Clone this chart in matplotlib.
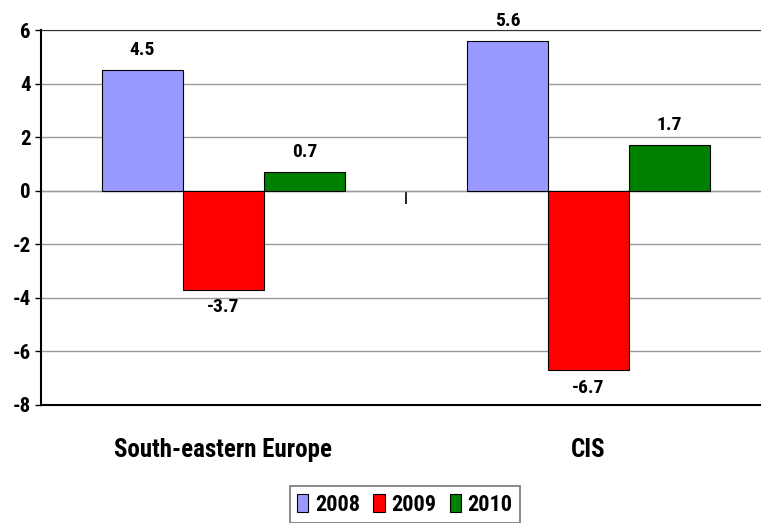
import numpy as np
import matplotlib.pyplot as plt

plt.rcParams['font.family'] = ['Roboto Condensed', 'DejaVu Sans']
plt.rcParams['font.weight'] = 'bold'
plt.rcParams['axes.unicode_minus'] = False

regions = ['South-eastern Europe', 'CIS']
years = ['2008', '2009', '2010']
v2008 = [4.5, 5.6]
v2009 = [-3.7, -6.7]
v2010 = [0.7, 1.7]
colors = ['#9999FF', '#FF0000', '#008000']

fig = plt.figure(figsize=(7.61, 5.23), dpi=100)
ax = fig.add_axes([41/761, 118/523, 730/761, 375/523])

x = np.arange(len(regions))
w = 1/4.5
series = [v2008, v2009, v2010]
for i, (vals, col, yr) in enumerate(zip(series, colors, years)):
    bars = ax.bar(x + (i - 1) * w, vals, w, color=col, edgecolor='black',
                  linewidth=0.8, label=yr, zorder=3)
    for b, v in zip(bars, vals):
        cx = b.get_x() + b.get_width() / 2
        if v >= 0:
            ax.annotate(f'{v:.1f}', (cx, v), xytext=(0, 8), textcoords='offset points',
                        ha='center', va='bottom', fontsize=14, fontweight='bold')
        else:
            ax.annotate(f'{v:.1f}', (cx, v), xytext=(0, -6), textcoords='offset points',
                        ha='center', va='top', fontsize=14, fontweight='bold')

ax.set_xlim(-0.5, 1.5)
ax.set_ylim(-8, 6)
ax.set_yticks(np.arange(-8, 7, 2))
ax.yaxis.grid(True, color='#9a9a9a', linewidth=1)
ax.set_axisbelow(True)
ax.tick_params(axis='y', labelsize=15, length=4, width=1)
for lab in ax.get_yticklabels():
    lab.set_fontweight('bold')

ax.set_xticks(x)
ax.set_xticklabels(regions, fontsize=18, fontweight='bold')
ax.tick_params(axis='x', length=0, pad=24)

ax.spines['right'].set_visible(False)
ax.spines['top'].set_color('#333333')
ax.spines['bottom'].set_color('black')
ax.spines['bottom'].set_linewidth(1.5)
ax.spines['left'].set_linewidth(1.5)

# zero line with category divider tick
sec = ax.secondary_xaxis(8/14)
sec.set_xticks([0.5])
sec.set_xticklabels([''])
sec.tick_params(direction='in', length=9, width=1.2)
sec.spines['bottom'].set_color('#555555')
sec.spines['bottom'].set_linewidth(1.5)

leg = fig.legend(loc='lower center', bbox_to_anchor=(0.532, -0.022), ncol=3,
                 prop={'size': 16, 'weight': 'bold'}, frameon=True, fancybox=False,
                 edgecolor='#555555', handlelength=0.5, handleheight=0.9,
                 handletextpad=0.3, columnspacing=0.6, borderpad=0.35)
leg.get_frame().set_linewidth(1.2)

fig.savefig('out.png', dpi=100)
